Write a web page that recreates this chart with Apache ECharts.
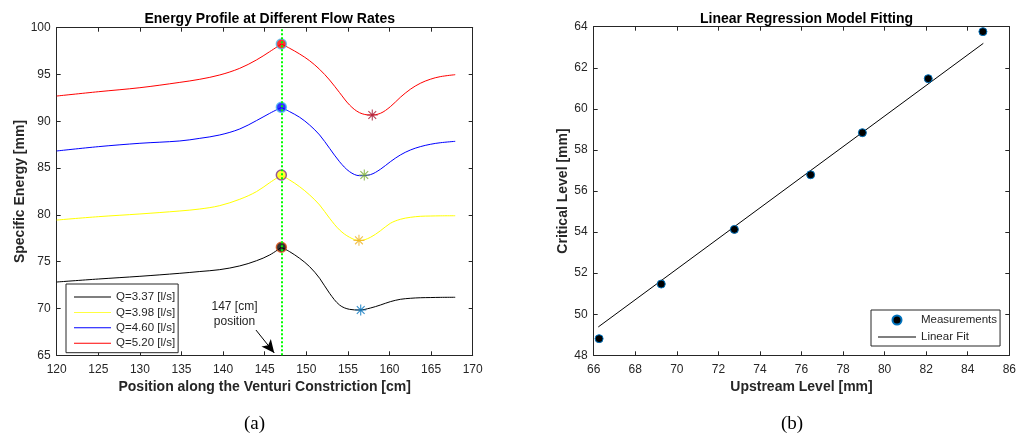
<!DOCTYPE html>
<html>
<head>
<meta charset="utf-8">
<script src="https://cdn.jsdelivr.net/npm/echarts@6/dist/echarts.min.js"></script>
<style>
html,body{margin:0;padding:0;background:#fff;}
#c{width:1016px;height:439px;}
</style>
</head>
<body>
<div id="c"></div>
<script>
// ---------- Data: panel (a) ----------
var posX  = [120, 125, 130, 134.8, 137.2, 139.6, 142.0, 144.0, 145.6, 147, 148.0, 149.2, 150.4, 151.6, 152.8, 154.0, 155.2, 156.4, 157.7, 158.9, 160.1, 161.3, 162.5, 163.7, 164.9, 166.1, 167.9];
var eQ337 = [72.83, 73.15, 73.44, 73.76, 73.95, 74.15, 74.55, 75.1, 75.72, 76.54, 76.07, 75.36, 74.47, 73.23, 71.62, 70.37, 69.91, 69.84, 70.05, 70.37, 70.73, 70.98, 71.09, 71.15, 71.17, 71.19, 71.2];
var eQ398 = [79.45, 79.81, 80.1, 80.42, 80.63, 80.99, 81.67, 82.48, 83.44, 84.26, 83.73, 83.01, 82.13, 81.06, 79.64, 78.39, 77.61, 77.25, 77.6, 78.3, 79.1, 79.53, 79.74, 79.85, 79.88, 79.9, 79.91];
var eQ460 = [86.83, 87.29, 87.65, 87.9, 88.18, 88.54, 89.18, 90.07, 90.85, 91.49, 91.03, 90.43, 89.6, 88.54, 87.11, 85.68, 84.62, 84.19, 84.3, 84.87, 85.68, 86.4, 86.93, 87.29, 87.54, 87.71, 87.86];
var eQ520 = [92.7, 93.16, 93.59, 94.16, 94.49, 94.95, 95.66, 96.55, 97.44, 98.26, 97.8, 97.19, 96.47, 95.55, 94.41, 93.06, 91.74, 90.92, 90.67, 90.85, 91.56, 92.56, 93.42, 94.06, 94.49, 94.77, 94.98];
var flowNames = ['Q=3.37 [l/s]', 'Q=3.98 [l/s]', 'Q=4.60 [l/s]', 'Q=5.20 [l/s]'];
var peakX = [147, 147, 147, 147];
var peakY = [76.54, 84.26, 91.49, 98.26];
var minX = [156.54, 156.33, 156.97, 157.93];
var minY = [69.84, 77.28, 84.26, 90.67];
var refX = 147;
var noteText = '147 [cm]\nposition';
var notePos = [141.37, 69.4];
var arrowFrom = [143.95, 67.7];
var arrowTo = [146.15, 65.25];
var xTicksA = {min: 120, max: 170, interval: 5};
var yTicksA = {min: 65, max: 100, interval: 5};

// ---------- Data: panel (b) ----------
var upstream = [66.26, 69.25, 72.77, 76.44, 78.93, 82.1, 84.73];
var critical = [48.81, 51.47, 54.13, 56.79, 58.84, 61.47, 63.76];
var fitX = [66.22, 84.75];
var fitY = [49.38, 63.19];
var xTicksB = {min: 66, max: 86, interval: 2};
var yTicksB = {min: 48, max: 64, interval: 2};

// ---------- Styles ----------
var FONT = "'Liberation Sans', Arial, Helvetica, sans-serif";
var AX = '#262626';
var lineColors = ['#000000', '#FFFF00', '#0000FF', '#FF0000'];
var peakEdge = ['#D95319', '#7E2F8E', '#4DBEEE', '#4DBEEE'];
var starColors = ['#0072BD', '#EDB120', '#77AC30', '#A2142F'];
var STAR = 'path://M9,0L11,0L11,20L9,20Z M0,9L20,9L20,11L0,11Z M2.22,3.64L3.64,2.22L17.78,16.36L16.36,17.78Z M16.36,2.22L17.78,3.64L3.64,17.78L2.22,16.36Z';
var LINE_ICON = 'path://M0,0L40,0L40,1L0,1Z';

function zip(xs, ys) { return xs.map(function (x, i) { return [x, ys[i]]; }); }

function valAxis(gridIndex, t, pos, showLabel, name, nameGap, isX) {
  return {
    type: 'value', gridIndex: gridIndex, position: pos,
    min: t.min, max: t.max, interval: t.interval,
    axisLine: {show: true, onZero: false, lineStyle: {color: AX, width: 1}},
    axisTick: {show: true, inside: true, length: 4, lineStyle: {color: AX}},
    splitLine: {show: false},
    axisLabel: {show: showLabel, color: AX, fontFamily: FONT, fontSize: 12, margin: isX ? 8 : 6},
    name: name || '', nameLocation: 'middle', nameGap: nameGap || 0,
    nameTextStyle: {color: AX, fontFamily: FONT, fontSize: 14, fontWeight: 'bold'}
  };
}

var ySeries = [eQ337, eQ398, eQ460, eQ520];
var series = [];
ySeries.forEach(function (ys, i) {
  var pts = zip(posX, ys);
  // the curve has a sharp crest at the throat (refX): draw both sides separately
  var up = pts.filter(function (p) { return p[0] <= refX; });
  var down = pts.filter(function (p) { return p[0] >= refX; });
  [up, down].forEach(function (part) {
    series.push({
      name: flowNames[i], type: 'line', xAxisIndex: 0, yAxisIndex: 0,
      data: part, symbol: 'none', smooth: 0.35,
      lineStyle: {color: lineColors[i], width: 1}, itemStyle: {color: lineColors[i]},
      z: 2, animation: false
    });
  });
});
series.push({
  name: 'peaks', type: 'scatter', xAxisIndex: 0, yAxisIndex: 0, symbol: 'circle', symbolSize: 10,
  data: peakX.map(function (x, i) {
    return {value: [x, peakY[i]], itemStyle: {color: lineColors[i], borderColor: peakEdge[i], borderWidth: 1.5}};
  }), z: 3, animation: false
});
series.push({
  name: 'minima', type: 'scatter', xAxisIndex: 0, yAxisIndex: 0, symbol: STAR, symbolSize: 11,
  data: minX.map(function (x, i) {
    return {value: [x, minY[i]], itemStyle: {color: starColors[i]}};
  }), z: 3, animation: false
});
series.push({
  name: 'ref', type: 'line', xAxisIndex: 0, yAxisIndex: 0, data: [], z: 5, animation: false,
  markLine: {
    silent: true, symbol: ['none', 'none'], animation: false,
    label: {show: false},
    lineStyle: {color: '#00FF00', width: 2, type: [2, 2]},
    data: [{xAxis: refX}]
  }
});
series.push({
  name: 'note', type: 'line', xAxisIndex: 0, yAxisIndex: 0, data: [], z: 6, animation: false,
  markLine: {
    silent: true, symbol: ['none', 'arrow'], symbolSize: [9, 13], animation: false,
    label: {show: false},
    lineStyle: {color: '#000', width: 1, type: 'solid'},
    data: [[{coord: arrowFrom}, {coord: arrowTo}]]
  },
  markPoint: {
    silent: true, symbol: 'circle', symbolSize: 0, animation: false,
    label: {show: true, position: 'inside', formatter: noteText, color: AX, fontFamily: FONT, fontSize: 12, lineHeight: 15},
    data: [{coord: notePos}]
  }
});
// panel (b)
series.push({
  name: 'Measurements', type: 'scatter', xAxisIndex: 2, yAxisIndex: 2, symbol: 'circle', symbolSize: 8,
  data: zip(upstream, critical),
  itemStyle: {color: '#000', borderColor: '#0072BD', borderWidth: 1, opacity: 1}, z: 3, animation: false
});
series.push({
  name: 'Linear Fit', type: 'line', xAxisIndex: 2, yAxisIndex: 2, symbol: 'none',
  data: zip(fitX, fitY), lineStyle: {color: '#000', width: 1}, itemStyle: {color: '#000'}, z: 2, animation: false
});

var option = {
  backgroundColor: '#fff',
  animation: false,
  title: [
    {text: 'Energy Profile at Different Flow Rates', left: 264.7, top: 7, textAlign: 'center',
      textStyle: {fontFamily: FONT, fontSize: 14, fontWeight: 'bold', color: '#000'}},
    {text: 'Linear Regression Model Fitting', left: 801.5, top: 7, textAlign: 'center',
      textStyle: {fontFamily: FONT, fontSize: 14, fontWeight: 'bold', color: '#000'}}
  ],
  grid: [
    {left: 56.7, top: 27.7, width: 416, bottom: 83.7, containLabel: false, outerBoundsMode: 'none', show: true, backgroundColor: '#fff', borderWidth: 0},
    {left: 593.7, top: 26.7, width: 415.6, bottom: 83.7, containLabel: false, outerBoundsMode: 'none', show: true, backgroundColor: '#fff', borderWidth: 0}
  ],
  xAxis: [
    valAxis(0, xTicksA, 'bottom', true, 'Position along the Venturi Constriction [cm]', 25, true),
    valAxis(0, xTicksA, 'top', false, '', 0, true),
    valAxis(1, xTicksB, 'bottom', true, 'Upstream Level [mm]', 25, true),
    valAxis(1, xTicksB, 'top', false, '', 0, true)
  ],
  yAxis: [
    valAxis(0, yTicksA, 'left', true, 'Specific Energy [mm]', 29, false),
    valAxis(0, yTicksA, 'right', false, '', 0, false),
    valAxis(1, yTicksB, 'left', true, 'Critical Level [mm]', 23, false),
    valAxis(1, yTicksB, 'right', false, '', 0, false)
  ],
  legend: [
    {data: flowNames.map(function (n) { return {name: n, icon: LINE_ICON}; }),
      orient: 'vertical', left: 66, top: 284, padding: [7, 3, 3.5, 8],
      itemWidth: 37, itemHeight: 12, itemGap: 3.4, backgroundColor: '#fff', borderColor: AX, borderWidth: 1,
      borderRadius: 0, selectedMode: false,
      textStyle: {fontFamily: FONT, fontSize: 11.5, color: AX}},
    {data: [{name: 'Measurements', icon: 'circle'}, {name: 'Linear Fit', icon: LINE_ICON}],
      orient: 'vertical', left: 871, top: 310, padding: [4, 3, 3, 7],
      itemWidth: 38, itemHeight: 9, itemGap: 5, backgroundColor: '#fff', borderColor: AX, borderWidth: 1,
      borderRadius: 0, selectedMode: false,
      textStyle: {fontFamily: FONT, fontSize: 11.5, color: AX}}
  ],
  graphic: [
    {type: 'text', left: 244, top: 415, style: {text: '(a)', font: "19px 'Liberation Serif', 'DejaVu Serif', serif", fill: '#000'}},
    {type: 'text', left: 781, top: 415, style: {text: '(b)', font: "19px 'Liberation Serif', 'DejaVu Serif', serif", fill: '#000'}}
  ],
  series: series
};

var chart = echarts.init(document.getElementById('c'), null, {renderer: 'canvas'});
chart.setOption(option);
</script>
</body>
</html>
